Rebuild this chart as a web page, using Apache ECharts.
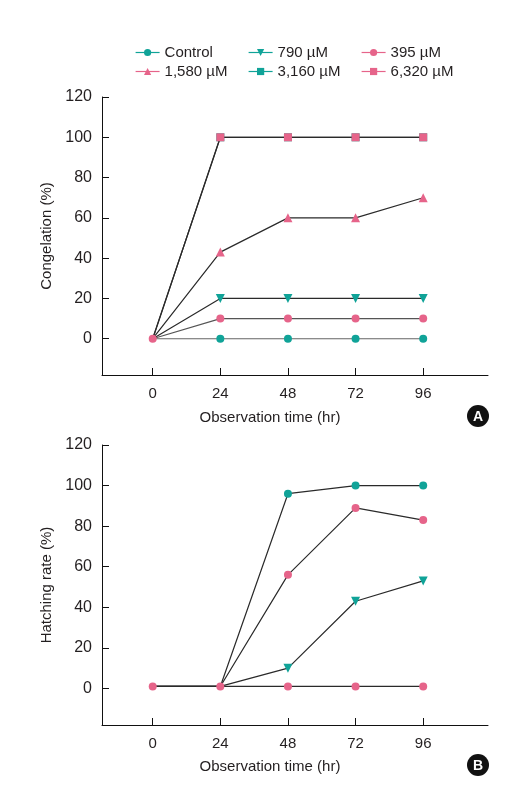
<!DOCTYPE html>
<html><head><meta charset="utf-8">
<script src="https://cdn.jsdelivr.net/npm/echarts@6/dist/echarts.min.js"></script>
<style>html,body{margin:0;padding:0;background:#fff}#c{width:521px;height:785px}</style>
</head><body><div id="c"></div>
<script>
// ---- data ----
const hours = [0, 24, 48, 72, 96];
const yTicks = [0, 20, 40, 60, 80, 100, 120];
// Panel A: Congelation (%)
const congControl = [0, 0, 0, 0, 0];
const cong790 = [0, 20, 20, 20, 20];
const cong395 = [0, 10, 10, 10, 10];
const cong1580 = [0, 43, 60, 60, 70];
const cong3160 = [0, 100, 100, 100, 100];
const cong6320 = [0, 100, 100, 100, 100];
// Panel B: Hatching rate (%)
const hatchControl = [1, 1, 96, 100, 100];
const hatch790 = [1, 1, 10, 43, 53];
const hatch395 = [1, 1, 56, 89, 83];
const hatchHigh = [1, 1, 1, 1, 1];

const TEAL = '#10a398';
const PINK = '#e6648a';
const LINE = '#2a2a2a';
const FONT = 'Liberation Sans, Arial, sans-serif';
const TXT = '#231f20';
const downTri = 'path://M0,0 L10,0 L5,8.6 Z';

const style = {
  'Control': {symbol: 'circle', color: TEAL, size: 8},
  '790 µM': {symbol: downTri, color: TEAL, size: 9},
  '395 µM': {symbol: 'circle', color: PINK, size: 8},
  '1,580 µM': {symbol: 'triangle', color: PINK, size: 9},
  '3,160 µM': {symbol: 'rect', color: TEAL, size: 8},
  '6,320 µM': {symbol: 'rect', color: PINK, size: 8}
};

// hidden: number of leading points whose marker is covered by another series' marker
function pts(arr, hidden) {
  return arr.map((v, i) => i < hidden ? {value: [hours[i], v], symbol: 'none'} : [hours[i], v]);
}
function mk(name, arr, idx, z, hidden, lineColor) {
  const s = style[name];
  return {
    name: name, type: 'line', xAxisIndex: idx, yAxisIndex: idx,
    data: pts(arr, hidden || 0), symbol: s.symbol, symbolSize: s.size, showSymbol: true,
    itemStyle: {color: s.color}, lineStyle: {color: lineColor || LINE, width: 1.2},
    z: z, animation: false, emphasis: {disabled: true}
  };
}

function xAx(gi) {
  return {
    type: 'value', gridIndex: gi, min: -18, max: 119,
    axisLine: {show: true, onZero: false, lineStyle: {color: '#111', width: 1}},
    axisTick: {show: true, inside: true, length: 7, customValues: hours, lineStyle: {color: '#111'}},
    axisLabel: {customValues: hours, margin: 11, fontSize: 15, color: TXT, fontFamily: FONT},
    splitLine: {show: false}
  };
}
function yAx(gi, name) {
  return {
    type: 'value', gridIndex: gi, min: -18, max: 120,
    name: name, nameLocation: 'middle', nameGap: 45,
    nameTextStyle: {fontSize: 15, color: TXT, fontFamily: FONT},
    axisLine: {show: true, onZero: false, lineStyle: {color: '#111', width: 1}},
    axisTick: {show: true, inside: true, length: 7, customValues: yTicks, lineStyle: {color: '#111'}},
    axisLabel: {customValues: yTicks, margin: 10, fontSize: 16, color: TXT, fontFamily: FONT},
    splitLine: {show: false}
  };
}

function legendCol(left, names) {
  return {
    orient: 'vertical', left: left, top: 40, itemGap: 4, itemWidth: 24, itemHeight: 9,
    textStyle: {fontSize: 15, color: TXT, fontFamily: FONT},
    data: names.map(n => ({name: n, itemStyle: {color: style[n].color}, lineStyle: {color: style[n].color, width: 1.2}})),
    selectedMode: false
  };
}

const chart = echarts.init(document.getElementById('c'), null, {renderer: 'canvas'});
chart.setOption({
  animation: false,
  backgroundColor: '#fff',
  legend: [
    legendCol(130, ['Control', '1,580 µM']),
    legendCol(243, ['790 µM', '3,160 µM']),
    legendCol(356, ['395 µM', '6,320 µM'])
  ],
  grid: [
    {left: 102, top: 97, width: 386, height: 278},
    {left: 102, top: 445, width: 386, height: 280}
  ],
  xAxis: [xAx(0), xAx(1)],
  yAxis: [yAx(0, 'Congelation (%)'), yAx(1, 'Hatching rate (%)')],
  series: [
    mk('Control', congControl, 0, 2, 1, '#666'),
    mk('790 µM', cong790, 0, 3, 1),
    mk('1,580 µM', cong1580, 0, 4, 1),
    mk('3,160 µM', cong3160, 0, 5, 1),
    mk('6,320 µM', cong6320, 0, 6, 1),
    mk('395 µM', cong395, 0, 7, 0, '#555'),
    mk('Control', hatchControl, 1, 3, 2),
    mk('790 µM', hatch790, 1, 4, 2),
    mk('395 µM', hatch395, 1, 5, 2),
    Object.assign(mk('395 µM', hatchHigh, 1, 6, 0), {name: 'Higher doses'})
  ],
  graphic: [
    {type: 'text', style: {text: 'Observation time (hr)', x: 270, y: 418, font: '15px ' + FONT, fill: TXT, textAlign: 'center', textVerticalAlign: 'middle'}},
    {type: 'text', style: {text: 'Observation time (hr)', x: 270, y: 767, font: '15px ' + FONT, fill: TXT, textAlign: 'center', textVerticalAlign: 'middle'}},
    {type: 'circle', shape: {cx: 478, cy: 416, r: 11}, style: {fill: '#111'}},
    {type: 'text', style: {text: 'A', x: 478, y: 417, font: 'bold 14px ' + FONT, fill: '#fff', textAlign: 'center', textVerticalAlign: 'middle'}},
    {type: 'circle', shape: {cx: 478, cy: 765, r: 11}, style: {fill: '#111'}},
    {type: 'text', style: {text: 'B', x: 478, y: 766, font: 'bold 14px ' + FONT, fill: '#fff', textAlign: 'center', textVerticalAlign: 'middle'}}
  ]
});
</script>
</body></html>
